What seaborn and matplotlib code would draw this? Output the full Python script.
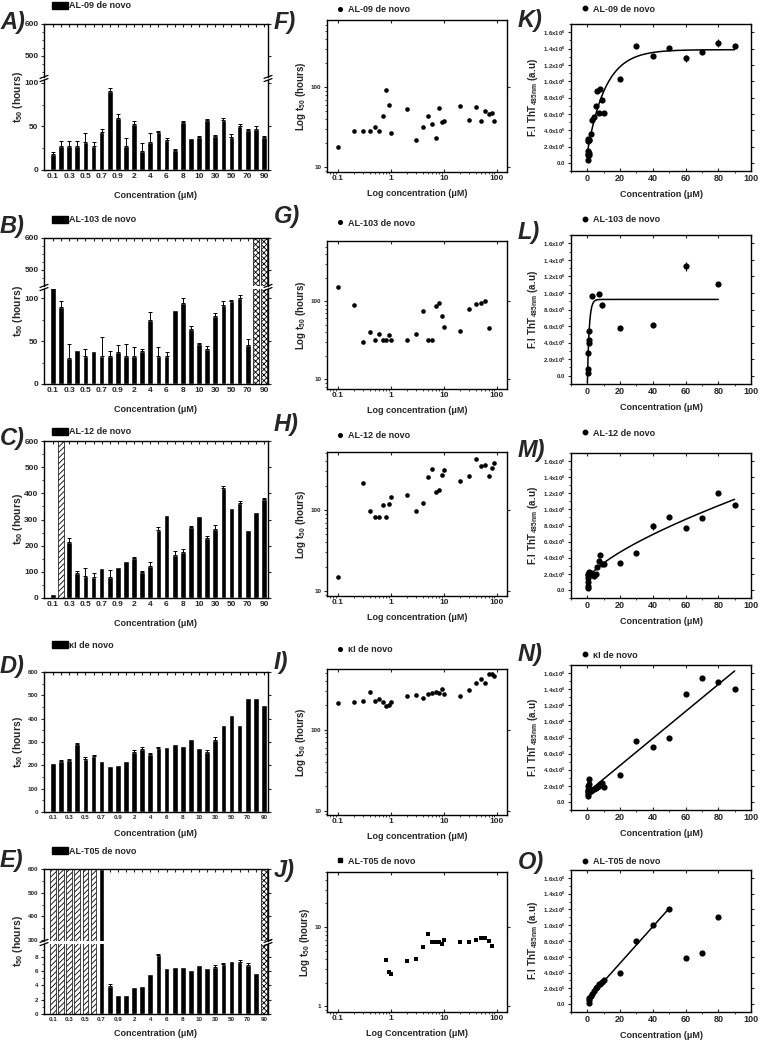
import numpy as np
import pandas as pd
import matplotlib
matplotlib.use("Agg")
import matplotlib.pyplot as plt
import matplotlib.ticker as mticker
from matplotlib.lines import Line2D
from matplotlib.patches import Patch
import seaborn as sns

sns.set_theme(style="ticks")
plt.rcParams["font.family"] = ["Liberation Sans", "DejaVu Sans"]
plt.rcParams["font.weight"] = "bold"
plt.rcParams["mathtext.fontset"] = "custom"
plt.rcParams["mathtext.rm"] = "Liberation Sans"
plt.rcParams["mathtext.bf"] = "Liberation Sans:bold"
plt.rcParams["hatch.linewidth"] = 0.6
plt.rcParams["axes.linewidth"] = 1.0

nan = np.nan

# concentrations (uM)
conc = [0.1, 0.2, 0.3, 0.4, 0.5, 0.6, 0.7, 0.8, 0.9, 1, 2, 3, 4, 5, 6, 7, 8, 9, 10,
        20, 30, 40, 50, 60, 70, 80, 90]
conc_lab = ["0.1", "0.2", "0.3", "0.4", "0.5", "0.6", "0.7", "0.8", "0.9", "1", "2", "3",
            "4", "5", "6", "7", "8", "9", "10", "20", "30", "40", "50", "60", "70", "80", "90"]
tick_lab = [lab if i % 2 == 0 else "" for i, lab in enumerate(conc_lab)]
t_window = 600  # hours, no aggregation inside the window

# t50 (hours) and upper error, per concentration
A_t50 = [18, 28, 28, 28, 32, 28, 44, 91, 60, 27, 53, 22, 32, 44, 35, 23, 55, 37, 38,
         58, 39, 57, 38, 51, 46, 47, 38]
A_err = [3, 5, 5, 5, 11, 4, 3, 3, 4, 10, 3, 9, 11, 1, 2, 1, 1, 0, 1, 1, 1, 3, 3, 2, 1, 3, 1]

B_t50 = [150, 90, 30, 40, 32, 38, 32, 32, 37, 32, 32, 38, 75, 32, 32, 86, 94, 64, 47,
         41, 79, 92, 96, 100, 45, nan, nan]
B_err = [0, 7, 16, 0, 9, 0, 23, 6, 8, 15, 11, 3, 9, 11, 5, 0, 6, 3, 1, 3, 4, 4, 2, 4, 7, 0, 0]
B_noagg = ["80", "90"]

C_t50 = [15, nan, 213, 97, 83, 82, 115, 82, 120, 143, 152, 98, 122, 258, 317, 165, 175,
         270, 313, 230, 262, 422, 345, 362, 260, 328, 378]
C_err = [0, 0, 15, 8, 32, 13, 0, 26, 0, 0, 3, 7, 16, 12, 0, 13, 13, 5, 0, 8, 16, 6, 0, 10,
         0, 0, 6]
C_noagg = ["0.2"]

D_t50 = [210, 220, 223, 293, 228, 238, 218, 198, 202, 220, 258, 270, 248, 275, 280, 290,
         283, 313, 273, 258, 310, 375, 417, 375, 490, 488, 457]
D_err = [0, 3, 3, 3, 7, 7, 0, 0, 0, 0, 7, 10, 7, 5, 0, 0, 0, 0, 0, 7, 10, 0, 0, 0, 0, 0, 0]

E_t50 = [nan, nan, nan, nan, nan, nan, 600, 3.9, 2.7, 2.6, 3.8, 3.95, 5.6, 8.2, 6.5, 6.6,
         6.6, 6.2, 6.9, 6.5, 6.6, 7.0, 7.4, 7.3, 6.8, 5.8, nan]
E_err = [0, 0, 0, 0, 0, 0, 0, 0.3, 0, 0, 0, 0, 0, 0.2, 0, 0, 0, 0, 0, 0, 0.3, 0.2, 0, 0.2,
         0.4, 0, 0]
E_hatch = ["0.1", "0.2", "0.3", "0.4", "0.5", "0.6"]
E_noagg = ["90"]

# ThT fluorescence (x10^6 a.u.)
K_conc = conc
K_fi = [0.03, 0.14, 0.27, 0.11, 0.10, 0.29, 0.10, 0.28, 0.12, 0.28, 0.35, 0.53, 0.56,
        0.70, 0.88, 0.61, 0.90, 0.77, 0.61, 1.03, 1.43, 1.31, 1.41, 1.28, 1.36, 1.47, 1.43]
K_err = [0] * 23 + [0.04, 0.02, 0.05, 0.0]

L_conc = [0.1, 0.2, 0.5, 0.8, 0.9, 1, 3, 7, 9, 20, 40, 60, 80]
L_fi = [0.03, 0.08, 0.28, 0.40, 0.43, 0.54, 0.96, 0.99, 0.85, 0.58, 0.61, 1.32, 1.11]
L_err = [0, 0, 0, 0, 0, 0, 0, 0, 0.03, 0, 0, 0.05, 0]

M_conc = conc
M_fi = [0.02, 0.05, 0.10, 0.15, 0.19, 0.20, 0.21, 0.18, 0.22, 0.20, 0.21, 0.20, 0.17,
        0.20, 0.28, 0.36, 0.43, 0.32, 0.32, 0.34, 0.46, 0.79, 0.91, 0.77, 0.89, 1.20, 1.06]
M_err = [0] * 21 + [0.04, 0, 0, 0, 0, 0]

N_conc = conc
N_fi = [0.12, 0.08, 0.13, 0.10, 0.15, 0.20, 0.29, 0.22, 0.14, 0.16, 0.14, 0.15, 0.16,
        0.17, 0.18, 0.20, 0.22, 0.23, 0.19, 0.33, 0.76, 0.68, 0.80, 1.34, 1.54, 1.49, 1.40]

O_conc = [0.8, 0.9, 1, 2, 3, 4, 5, 6, 7, 8, 9, 10, 20, 30, 40, 50, 60, 70, 80]
O_fi = [0.02, 0.05, 0.08, 0.10, 0.13, 0.17, 0.20, 0.22, 0.25, 0.25, 0.28, 0.30, 0.40,
        0.80, 1.00, 1.20, 0.58, 0.65, 1.10]
O_fit_max = 50

W, H = 761, 1050
fig = plt.figure(figsize=(W / 100, H / 100), dpi=100)


def px_axes(l, t, r, b):
    return fig.add_axes([l / W, 1 - b / H, (r - l) / W, (b - t) / H])


def ftext(x, y, s, **kw):
    fig.text(x / W, 1 - y / H, s, **kw)


def letter(x, y, s):
    ftext(x, y, s, fontsize=17, fontweight="bold", fontstyle="italic", ha="left", va="center")


def style_ticks(ax, lab_size):
    ax.tick_params(axis="x", direction="in", top=True, bottom=True, length=2.5, width=0.8,
                   labelsize=lab_size, pad=2)
    ax.tick_params(axis="y", direction="out", left=True, right=True, length=2.5, width=0.8,
                   labelsize=lab_size, pad=1.5)
    ax.tick_params(which="minor", length=1.5, width=0.6)
    for sp in ax.spines.values():
        sp.set_linewidth(1.0)
        sp.set_color("black")


def break_mark(xp, yp):
    for dy in (-1.6, 1.6):
        fig.add_artist(Line2D([(xp - 4) / W, (xp + 4) / W],
                              [1 - (yp + dy + 1.5) / H, 1 - (yp + dy - 1.5) / H],
                              color="black", lw=0.9))


def draw_bars(ax, t50, err, hatch_cats, noagg_cats):
    df = pd.DataFrame({"conc": conc_lab, "t50": t50})
    sns.barplot(data=df, x="conc", y="t50", order=conc_lab, color="black", width=0.7,
                saturation=1, errorbar=None, ax=ax)
    if hatch_cats:
        sns.barplot(x=hatch_cats, y=[t_window] * len(hatch_cats), order=conc_lab,
                    color="white", edgecolor="black", hatch="//////", linewidth=0.5,
                    width=0.7, saturation=1, errorbar=None, ax=ax)
    if noagg_cats:
        sns.barplot(x=noagg_cats, y=[t_window] * len(noagg_cats), order=conc_lab,
                    color="white", edgecolor="black", hatch="xxxxxx", linewidth=0.5,
                    width=0.7, saturation=1, errorbar=None, ax=ax)
    e = np.array(err, dtype=float)
    v = np.array(t50, dtype=float)
    idx = np.where(e > 0)[0]
    ax.errorbar(idx, v[idx], yerr=[np.zeros(len(idx)), e[idx]], fmt="none", ecolor="black",
                elinewidth=0.7, capsize=1.6, capthick=0.7)
    ax.set_xlim(-1.1, 26.5)
    ax.set_xticks(range(len(conc_lab)))
    ax.set_xlabel("")
    ax.set_ylabel("")


def bar_panel(segs, t50, err, hatch_cats, noagg_cats, lab_size, label, leg_y, let, let_y,
              xlab_y):
    l, r = 44, 268
    axes = []
    for i, (top, bot, ylim, major, minor) in enumerate(segs):
        ax = px_axes(l, top, r, bot)
        draw_bars(ax, t50, err, hatch_cats, noagg_cats)
        ax.set_ylim(*ylim)
        ax.set_yticks(major)
        ax.yaxis.set_minor_locator(mticker.FixedLocator(minor))
        style_ticks(ax, lab_size)
        last = i == len(segs) - 1
        if last:
            ax.set_xticklabels(tick_lab)
        else:
            ax.tick_params(axis="x", labelbottom=False, bottom=False)
            ax.spines["bottom"].set_visible(False)
        if i > 0:
            ax.spines["top"].set_visible(False)
            ax.tick_params(axis="x", top=False)
        axes.append(ax)
    for i in range(len(segs) - 1):
        yb = (segs[i][1] + segs[i + 1][0]) / 2
        break_mark(l, yb)
        break_mark(r, yb)
    ytop, ybot = segs[0][0], segs[-1][1]
    ftext(18, (ytop + ybot) / 2, r"$\mathbf{t_{50}}$ (hours)", rotation=90, ha="center",
          va="center", fontsize=7.5, fontweight="bold")
    ftext((l + r) / 2, xlab_y, "Concentration (μM)", ha="center", va="center",
          fontsize=6.5, fontweight="bold")
    fig.legend(handles=[Patch(facecolor="black", edgecolor="black")], labels=[label],
               loc="center left", bbox_to_anchor=(52 / W, 1 - leg_y / H), frameon=False,
               handlelength=1.8, handleheight=0.7, handletextpad=0.1, borderpad=0,
               borderaxespad=0, prop={"size": 6.5, "weight": "bold"})
    letter(0, let_y, let)
    return axes


# ---- left column: t50 bar charts ----
bar_panel([(24, 77, (434, 600), [500, 600], [450, 475, 525, 550, 575]),
           (80, 170, (0, 103.4), [0, 50, 100], [25, 75])],
          A_t50, A_err, [], [], 6, "AL-09 de novo", 6, "A)", 22, 196)
bar_panel([(238, 286, (450, 600), [500, 600], [475, 525, 550, 575]),
           (289, 384, (0, 110.5), [0, 50, 100], [25, 75])],
          B_t50, B_err, [], B_noagg, 6, "AL-103 de novo", 220, "B)", 226, 410)
bar_panel([(441, 598, (0, 600), list(range(0, 601, 100)), list(range(50, 600, 100)))],
          C_t50, C_err, C_noagg, [], 6, "AL-12 de novo", 432, "C)", 438, 623)
bar_panel([(672, 812, (0, 600), list(range(0, 601, 100)), list(range(50, 600, 100)))],
          D_t50, D_err, [], [], 4.5, "κI de novo", 645, "D)", 667, 833)
bar_panel([(869, 941, (296, 600), [300, 400, 500, 600], [350, 450, 550]),
           (944, 1014, (0, 9.8), [0, 2, 4, 6, 8], [1, 3, 5, 7, 9])],
          E_t50, E_err, E_hatch, E_noagg, 4.5, "AL-T05 de novo", 851, "E)", 860, 1033)


# ---- middle column: log t50 vs log concentration ----
def log_panel(top, bot, x, y, ylim, yticks, marker, label, leg_y, let, let_y, xlabel):
    ax = px_axes(327, top, 507, bot)
    df = pd.DataFrame({"conc": x, "t50": y}).dropna()
    sns.scatterplot(data=df, x="conc", y="t50", color="black", marker=marker, s=11,
                    linewidth=0, ax=ax)
    ax.set_xscale("log")
    ax.set_yscale("log")
    ax.set_xlim(0.062, 155)
    ax.set_ylim(*ylim)
    ax.set_xticks([0.1, 1, 10, 100])
    ax.set_xticklabels(["0.1", "1", "10", "100"])
    ax.set_yticks(yticks)
    ax.set_yticklabels([f"{v:g}" for v in yticks])
    ax.xaxis.set_minor_locator(mticker.LogLocator(base=10, subs=np.arange(2, 10)))
    ax.yaxis.set_minor_locator(mticker.LogLocator(base=10, subs=np.arange(2, 10)))
    ax.yaxis.set_minor_formatter(mticker.NullFormatter())
    style_ticks(ax, 6)
    ax.tick_params(axis="y", labelsize=4.5)
    ax.set_xlabel(xlabel, fontsize=6.5, fontweight="bold", labelpad=5)
    ax.set_ylabel(r"Log $\mathbf{t_{50}}$ (hours)", fontsize=7, fontweight="bold", labelpad=2)
    fig.legend(handles=[Line2D([], [], marker=marker, color="black", linestyle="none",
                               markersize=2.6)], labels=[label], loc="center left",
               bbox_to_anchor=(335 / W, 1 - leg_y / H), frameon=False, handlelength=1,
               handletextpad=0.4, borderpad=0, borderaxespad=0,
               prop={"size": 6.5, "weight": "bold"})
    letter(274, let_y, let)
    return ax


log_panel(20, 172, conc, A_t50, (8.7, 690), [10, 100], "o", "AL-09 de novo", 10, "F)", 22,
          "Log concentration (μM)")
log_panel(241, 389, conc, B_t50, (7.5, 590), [10, 100], "o", "AL-103 de novo", 223, "G)",
          217, "Log concentration (μM)")
log_panel(452, 596, conc, C_t50, (8.7, 520), [10, 100], "o", "AL-12 de novo", 436, "H)",
          425, "Log concentration (μM)")
log_panel(669, 815, conc, D_t50, (8.8, 560), [10, 100], "o", "κI de novo", 650, "I)", 663,
          "Log concentration (μM)")
log_panel(872, 1012, conc, [v if v < 100 else nan for v in E_t50], (0.85, 50), [1, 10], "s",
          "AL-T05 de novo", 861, "J)", 870, "Log Concentration (μM)")


# ---- right column: ThT fluorescence vs concentration ----
def fit_sat(x, y):
    best = None
    for k in np.linspace(0.01, 3, 600):
        X = np.column_stack([np.ones_like(x), 1 - np.exp(-k * x)])
        coef = np.linalg.lstsq(X, y, rcond=None)[0]
        sse = np.sum((X @ coef - y) ** 2)
        if best is None or sse < best[0]:
            best = (sse, k, coef)
    _, k, coef = best
    xf = np.linspace(0, x.max(), 300)
    return xf, coef[0] + coef[1] * (1 - np.exp(-k * xf))


def fit_pow(x, y):
    best = None
    for c in np.linspace(0.2, 1.5, 300):
        X = np.column_stack([np.ones_like(x), x ** c])
        coef = np.linalg.lstsq(X, y, rcond=None)[0]
        sse = np.sum((X @ coef - y) ** 2)
        if best is None or sse < best[0]:
            best = (sse, c, coef)
    _, c, coef = best
    xf = np.linspace(0, x.max(), 300)
    return xf, coef[0] + coef[1] * xf ** c


def fit_lin(x, y):
    p = np.polyfit(x, y, 1)
    xf = np.linspace(x.min(), x.max(), 50)
    return xf, np.polyval(p, xf)


def fi_fmt(v, pos):
    if abs(v) < 1e-9:
        return "0.0"
    if v < 0.999:
        return f"{v * 10:.1f}x10$^5$"
    return f"{v:.1f}x10$^6$"


def tht_panel(top, bot, x, y, err, fit, label, leg_y, let, let_y):
    ax = px_axes(571, top, 751, bot)
    x = np.array(x, dtype=float)
    y = np.array(y, dtype=float)
    sns.scatterplot(x=x, y=y, color="black", s=20, linewidth=0, ax=ax)
    if err is not None:
        e = np.array(err, dtype=float)
        idx = e > 0
        ax.errorbar(x[idx], y[idx], yerr=e[idx], fmt="none", ecolor="black", elinewidth=0.8,
                    capsize=0)
    xf, yf = fit
    sns.lineplot(x=xf, y=yf, color="black", linewidth=1.1, ax=ax)
    ax.set_xlim(-10, 100)
    ax.set_ylim(-0.1, 1.7)
    ax.set_xticks([0, 20, 40, 60, 80, 100])
    ax.set_yticks(np.round(np.arange(0, 1.61, 0.2), 1))
    ax.xaxis.set_minor_locator(mticker.MultipleLocator(10))
    ax.yaxis.set_minor_locator(mticker.MultipleLocator(0.1))
    ax.yaxis.set_major_formatter(mticker.FuncFormatter(fi_fmt))
    style_ticks(ax, 6.5)
    ax.tick_params(axis="y", labelsize=4.3)
    ax.set_xlabel("Concentration (μM)", fontsize=6.5, fontweight="bold", labelpad=5)
    ax.set_ylabel(r"F.I ThT$_{\mathbf{485nm}}$ (a.u)", fontsize=7, fontweight="bold",
                  labelpad=2)
    fig.legend(handles=[Line2D([], [], marker="o", color="black", linestyle="none",
                               markersize=3.2)], labels=[label], loc="center left",
               bbox_to_anchor=(580 / W, 1 - leg_y / H), frameon=False, handlelength=1,
               handletextpad=0.4, borderpad=0, borderaxespad=0,
               prop={"size": 6.5, "weight": "bold"})
    letter(518, let_y, let)
    return ax


kx, ky = np.array(K_conc, float), np.array(K_fi, float)
lx, ly = np.array(L_conc, float), np.array(L_fi, float)
mx, my = np.array(M_conc, float), np.array(M_fi, float)
nx, ny = np.array(N_conc, float), np.array(N_fi, float)
ox, oy = np.array(O_conc, float), np.array(O_fi, float)

tht_panel(24, 171, K_conc, K_fi, K_err, fit_sat(kx, ky), "AL-09 de novo", 9, "K)", 20)
tht_panel(235, 384, L_conc, L_fi, L_err, fit_sat(lx, ly), "AL-103 de novo", 220, "L)", 232)
tht_panel(453, 598, M_conc, M_fi, M_err, fit_pow(mx, my), "AL-12 de novo", 433, "M)", 450)
tht_panel(665, 810, N_conc, N_fi, None, fit_lin(nx, ny), "κI de novo", 655, "N)", 655)
tht_panel(870, 1012, O_conc, O_fi, None, fit_lin(ox[ox <= O_fit_max], oy[ox <= O_fit_max]),
          "AL-T05 de novo", 862, "O)", 862)

fig.savefig("out.png", dpi=100)
